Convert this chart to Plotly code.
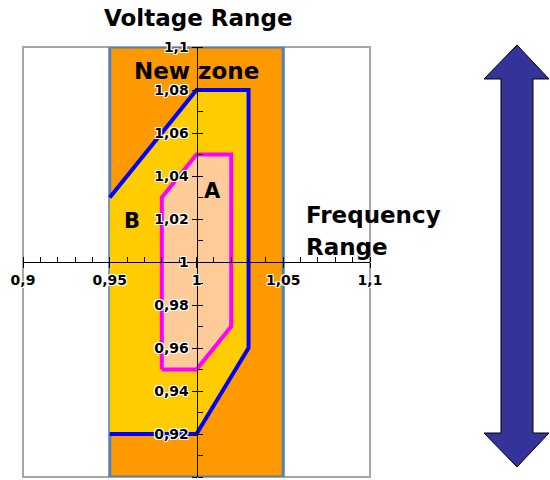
import plotly.graph_objects as go

# zone limits (frequency / voltage, p.u.)
zone_freq = [0.95, 1.05, 1.05, 0.95, 0.95]
zone_volt = [0.90, 0.90, 1.10, 1.10, 0.90]

# zone B boundary
b_freq = [0.95, 1.00, 1.03, 1.03, 1.00, 0.95]
b_volt = [1.03, 1.08, 1.08, 0.96, 0.92, 0.92]

# zone A boundary
a_freq = [0.98, 0.98, 1.00, 1.02, 1.02, 1.00, 0.98]
a_volt = [0.95, 1.03, 1.05, 1.05, 0.97, 0.95, 0.95]

x_ticks = [0.9, 0.95, 1.0, 1.05, 1.1]

W, H = 550, 480
L, R, T, B = 23, 180, 47, 3


def px(x, y):
    # pixel -> paper fraction
    return (x - L) / (W - L - R), (H - B - y) / (H - T - B)


fig = go.Figure()
fig.add_trace(go.Scatter(x=zone_freq, y=zone_volt, mode="lines", fill="toself",
                         fillcolor="#FF9900", line=dict(color="#4F81BD", width=3)))
fig.add_trace(go.Scatter(x=b_freq + b_freq[:1], y=b_volt + b_volt[:1], mode="lines",
                         fill="toself", fillcolor="#FFCC00", line=dict(width=0)))
fig.add_trace(go.Scatter(x=b_freq, y=b_volt, mode="lines",
                         line=dict(color="#0000FF", width=4)))
fig.add_trace(go.Scatter(x=a_freq, y=a_volt, mode="lines", fill="toself",
                         fillcolor="#FFCC99", line=dict(color="#FF00FF", width=4)))

# double arrow
pts = [(517, 45), (549, 79), (533, 79), (533, 433), (549, 433), (517, 467),
       (484, 433), (501, 433), (501, 79), (484, 79)]
path = "M " + " L ".join("%.4f,%.4f" % px(a, b) for a, b in pts) + " Z"
fig.add_shape(type="path", path=path, xref="paper", yref="paper",
              fillcolor="#333399", line=dict(color="black", width=1))
# plot border
fig.add_shape(type="rect", xref="paper", yref="paper", x0=0, x1=1, y0=0, y1=1,
              line=dict(color="#A6A6A6", width=2), layer="below")

big = dict(family="DejaVu Sans", size=23, color="black", weight="bold")
halo = "1px 1px 0 white, -1px -1px 0 white, 1px -1px 0 white, -1px 1px 0 white"
tickfont = dict(family="DejaVu Sans", size=14, color="black", weight="bold", shadow=halo)

vx, vy = px(198, 18)
fig.add_annotation(text="Voltage Range", x=vx, y=vy, xref="paper", yref="paper",
                   yanchor="middle", showarrow=False, font=big)
fig.add_annotation(text="New zone", x=1.0, y=1.089, showarrow=False, font=big)
fig.add_annotation(text="A", x=1.009, y=1.033, showarrow=False,
                   font=dict(family="DejaVu Sans", size=21, color="black", weight="bold"))
fig.add_annotation(text="B", x=0.963, y=1.019, showarrow=False,
                   font=dict(family="DejaVu Sans", size=21, color="black", weight="bold"))
fig.add_annotation(text="Frequency", x=1.062, y=1.022, xanchor="left", showarrow=False, font=big)
fig.add_annotation(text="Range", x=1.062, y=1.007, xanchor="left", showarrow=False, font=big)

fig.update_layout(
    width=W, height=H, margin=dict(l=L, r=R, t=T, b=B),
    showlegend=False, plot_bgcolor="white", paper_bgcolor="white",
    separators=", ",
    xaxis=dict(range=[0.9, 1.1], anchor="free", position=0.5, showgrid=False,
               zeroline=False, showline=True, linecolor="black", linewidth=1,
               tickvals=x_ticks, ticks="outside", ticklen=5, tickcolor="black",
               minor=dict(dtick=0.01, ticks="inside", ticklen=5, tickcolor="black"),
               tickfont=tickfont, automargin=False),
    yaxis=dict(range=[0.9, 1.1], anchor="free", position=0.5, showgrid=False,
               zeroline=False, showline=True, linecolor="black", linewidth=1,
               dtick=0.02, tick0=0.9, ticks="outside", ticklen=5, tickcolor="black",
               minor=dict(dtick=0.01, ticks="inside", ticklen=5, tickcolor="black"),
               tickfont=tickfont, automargin=False),
)

fig.write_html("out.html", config={"displayModeBar": False},
               post_script="document.body.style.margin='0px';")
